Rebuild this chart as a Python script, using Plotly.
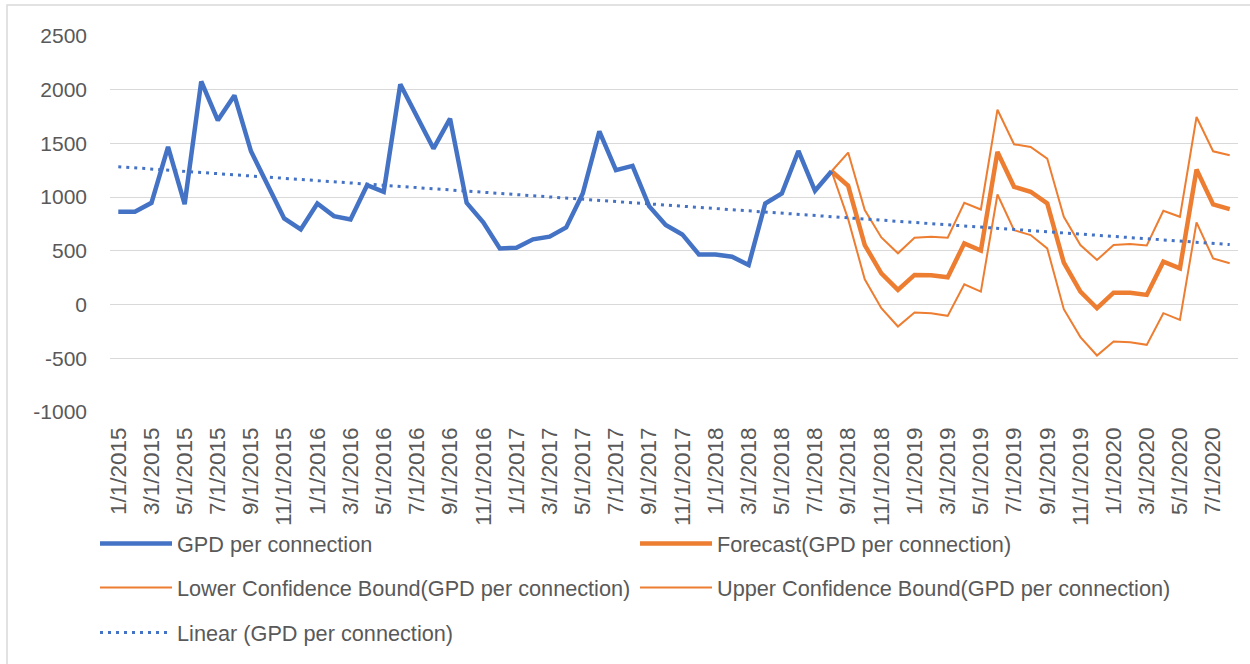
import numpy as np
import plotly.graph_objects as go

# ---------------- data ----------------
months = [f"{m}/1/{y}" for y in range(2015, 2021) for m in range(1, 13)][:68]  # 1/1/2015 .. 8/1/2020

gpd = [864, 864, 947, 1467, 935, 2077, 1715, 1947, 1427, 1120,
       802, 700, 941, 823, 793, 1111, 1050, 2050, 1750, 1452,
       1731, 947, 765, 523, 529, 607, 632, 718, 1034, 1613,
       1251, 1291, 916, 740, 653, 467, 467, 446, 368, 941,
       1034, 1430, 1059, 1241]  # 1/1/2015 .. 8/1/2018

forecast = [1241, 1105, 554, 291, 136, 276, 272, 254, 570, 502,
            1421, 1096, 1050, 941, 390, 121, -34, 111, 111, 90,
            399, 337, 1257, 932, 889]  # 8/1/2018 .. 8/1/2020

lower = [1241, 795, 235, -34, -204, -74, -80, -105, 189, 121,
         1025, 693, 647, 523, -43, -303, -474, -344, -350, -375,
         -80, -142, 765, 430, 384]

upper = [1241, 1415, 879, 625, 477, 622, 632, 622, 947, 885,
         1814, 1492, 1467, 1359, 817, 554, 415, 554, 563, 551,
         873, 817, 1746, 1427, 1390]

tick_labels = months[::2]
y_ticks = [-1000, -500, 0, 500, 1000, 1500, 2000, 2500]
y_tick_text = ["-1000", "-500", "0", "500", "1000", "1500", "2000", "2500"]

# ---------------- derived ----------------
fc_x = months[len(gpd) - 1:]
idx = np.arange(len(gpd))
slope, intercept = np.polyfit(idx, np.array(gpd, dtype=float), 1)
trend = intercept + slope * np.arange(len(months))

BLUE = "#4472C4"
ORANGE = "#ED7D31"
TXT = "#595959"
FONT = "Liberation Sans"

fig = go.Figure()
fig.add_trace(go.Scatter(x=fc_x, y=lower, mode="lines", name="Lower Confidence Bound(GPD per connection)",
                         line=dict(color=ORANGE, width=2), legend="legend2", legendrank=1))
fig.add_trace(go.Scatter(x=fc_x, y=upper, mode="lines", name="Upper Confidence Bound(GPD per connection)",
                         line=dict(color=ORANGE, width=2), legend="legend2", legendrank=2))
fig.add_trace(go.Scatter(x=fc_x, y=forecast, mode="lines", name="Forecast(GPD per connection)",
                         line=dict(color=ORANGE, width=4.5), legend="legend", legendrank=2))
fig.add_trace(go.Scatter(x=months[:len(gpd)], y=gpd, mode="lines", name="GPD per connection",
                         line=dict(color=BLUE, width=4.5), legend="legend", legendrank=1))
fig.add_trace(go.Scatter(x=months, y=trend, mode="lines", name="Linear (GPD per connection)",
                         line=dict(color=BLUE, width=3, dash="3px,5px"), legend="legend3"))

L, R, T, B = 110, 12, 36, 252
W, H = 1250, 664
pw, ph = W - L - R, H - T - B


def py(ypix):
    return (H - B - ypix) / ph


def px(xpix):
    return (xpix - L) / pw


leg_common = dict(orientation="h", xanchor="left", yanchor="middle", x=px(95),
                  font=dict(family=FONT, size=21.7, color=TXT), bgcolor="rgba(0,0,0,0)",
                  entrywidth=453, entrywidthmode="pixels", itemwidth=72, traceorder="normal")

fig.update_layout(
    width=W, height=H,
    margin=dict(l=L, r=R, t=T, b=B, autoexpand=False),
    paper_bgcolor="white", plot_bgcolor="white",
    font=dict(family=FONT, size=21, color=TXT),
    showlegend=True,
    legend=dict(**leg_common, y=py(544)),
    legend2=dict(**leg_common, y=py(588)),
    legend3=dict(**leg_common, y=py(633)),
    xaxis=dict(type="category", categoryorder="array", categoryarray=months,
               tickmode="array", tickvals=tick_labels, ticktext=tick_labels,
               tickangle=-90, showgrid=False, showline=False, zeroline=False,
               ticks="", ticklabelstandoff=10, range=[-0.5, len(months) - 0.5],
               tickfont=dict(family=FONT, size=22.5, color=TXT)),
    yaxis=dict(range=[-1000, 2500], tickmode="array", tickvals=y_ticks, ticktext=y_tick_text,
               showgrid=True, gridcolor="#D9D9D9", gridwidth=1.3, zeroline=False,
               showline=False, ticks="", ticklabelstandoff=22,
               tickfont=dict(family=FONT, size=21, color=TXT)),
    shapes=[dict(type="rect", xref="paper", yref="paper",
                 x0=px(7), x1=px(W + 3), y0=py(H + 3), y1=py(5),
                 line=dict(color="#D9D9D9", width=1.5), fillcolor="rgba(0,0,0,0)", layer="below")],
)

fig.write_html("out.html", config={"displayModeBar": False},
               post_script="document.body.style.margin='0';document.body.style.padding='0';")
